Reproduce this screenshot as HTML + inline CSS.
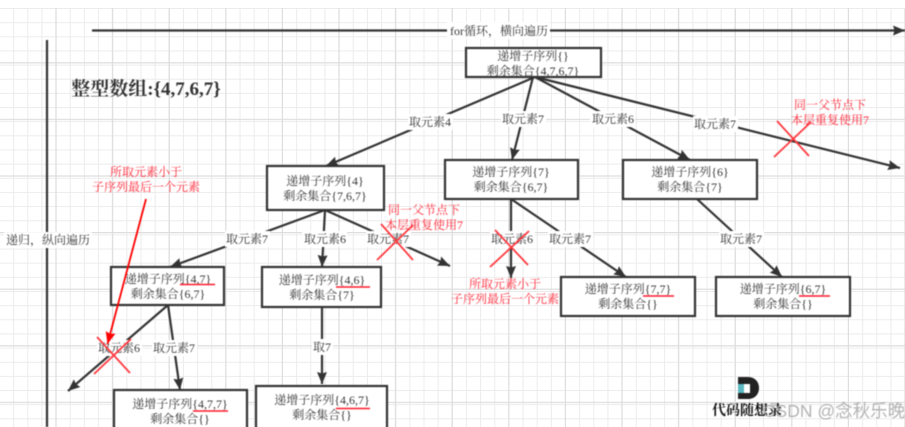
<!DOCTYPE html>
<html><head><meta charset="utf-8"><style>
html,body{margin:0;padding:0;background:#fff;width:905px;height:427px;overflow:hidden}
svg{display:block}
#c{filter:blur(0.4px)}
text{font-family:"Liberation Serif","Noto Serif CJK SC",serif;font-size:12px;fill:#3a3a3a;text-anchor:middle}
.r{fill:#ff2a3a}
.b{fill:#fff;stroke:#333;stroke-width:2.2}
.l{stroke:#333;stroke-width:2.2;fill:none}
.x{stroke:#ff3a40;stroke-width:1.8;fill:none}
.u{stroke:#ff1a2a;stroke-width:1.5;fill:none}
.w{fill:#fff}
</style></head><body>
<svg width="905" height="427" viewBox="0 0 905 427" xmlns="http://www.w3.org/2000/svg">
<defs>
<pattern id="m" x="0" y="8" width="14.15" height="14.15" patternUnits="userSpaceOnUse"><path d="M13.65 0V14.15M0 .5H14.15" stroke="#ececec" stroke-width="1" fill="none"/></pattern>
<pattern id="M" x="0" y="5.6" width="56.6" height="56.6" patternUnits="userSpaceOnUse"><path d="M56 0V56.6M0 .6H56.6" stroke="#dedede" stroke-width="1.2" fill="none"/></pattern>
<marker id="a" markerUnits="userSpaceOnUse" markerWidth="14" markerHeight="12" refX="12" refY="5.500" orient="auto"><path d="M0 0.500L12 5.500L0 10.500L1.500 5.500Z" fill="#333"/></marker>
<marker id="ra" markerUnits="userSpaceOnUse" markerWidth="14" markerHeight="12" refX="12" refY="5.500" orient="auto"><path d="M0 0.500L12 5.500L0 10.500L1.500 5.500Z" fill="#f00"/></marker>
</defs>
<rect y="8" width="905" height="419" fill="url(#m)"/>
<rect y="8" width="905" height="419" fill="url(#M)"/>
<g id="c">
<line class="l" x1="92" y1="30.500" x2="905" y2="30.500" marker-end="url(#a)"/>
<line class="l" x1="47" y1="40" x2="47" y2="427"/>
<rect class="w" x="447" y="22" width="103" height="17"/>
<text x="499" y="35">for循环，横向遍历</text>
<rect class="w" x="4" y="232" width="88" height="16"/>
<text x="48" y="244">递归，纵向遍历</text>
<text x="146" y="95" style="font-size:19px;font-weight:bold;fill:#333">整型数组:{4,7,6,7}</text>

<line class="l" x1="535" y1="77" x2="326" y2="166" marker-end="url(#a)"/>
<line class="l" x1="533" y1="77" x2="512" y2="160" marker-end="url(#a)"/>
<line class="l" x1="535" y1="77" x2="690" y2="160" marker-end="url(#a)"/>
<line class="l" x1="535" y1="77" x2="900" y2="168" marker-end="url(#a)"/>
<line class="l" x1="325" y1="210" x2="170" y2="267" marker-end="url(#a)"/>
<line class="l" x1="325" y1="210" x2="322" y2="267" marker-end="url(#a)"/>
<line class="l" x1="325" y1="210" x2="450" y2="266" marker-end="url(#a)"/>
<line class="l" x1="511" y1="199" x2="511" y2="278" marker-end="url(#a)"/>
<line class="l" x1="511" y1="199" x2="626" y2="277" marker-end="url(#a)"/>
<line class="l" x1="697" y1="199" x2="782" y2="277" marker-end="url(#a)"/>
<line class="l" x1="168" y1="305" x2="68" y2="391" marker-end="url(#a)"/>
<line class="l" x1="168" y1="305" x2="180" y2="390" marker-end="url(#a)"/>
<line class="l" x1="322" y1="307" x2="322" y2="384" marker-end="url(#a)"/>

<g>
<rect class="w" x="408" y="114" width="45" height="16"/><text x="430" y="126">取元素4</text>
<rect class="w" x="501" y="111" width="45" height="16"/><text x="523" y="123">取元素7</text>
<rect class="w" x="590" y="111" width="45" height="16"/><text x="613" y="123">取元素6</text>
<rect class="w" x="693" y="116" width="45" height="16"/><text x="715" y="128">取元素7</text>
<rect class="w" x="225" y="231" width="45" height="16"/><text x="247" y="243">取元素7</text>
<rect class="w" x="302" y="231" width="45" height="16"/><text x="325" y="243">取元素6</text>
<rect class="w" x="366" y="231" width="45" height="16"/><text x="388" y="243">取元素7</text>
<rect class="w" x="490" y="231" width="45" height="16"/><text x="512" y="243">取元素6</text>
<rect class="w" x="548" y="231" width="45" height="16"/><text x="570" y="243">取元素7</text>
<rect class="w" x="719" y="231" width="45" height="16"/><text x="741" y="243">取元素7</text>
<rect class="w" x="97" y="340" width="45" height="16"/><text x="119" y="352">取元素6</text>
<rect class="w" x="152" y="340" width="45" height="16"/><text x="174" y="352">取元素7</text>
<rect class="w" x="312" y="339" width="21" height="16"/><text x="322" y="351">取7</text>
</g>

<rect class="b" x="466" y="48" width="135" height="29"/>
<text x="533" y="60">递增子序列{}</text><text x="533" y="75">剩余集合{4,7,6,7}</text>
<rect class="b" x="267" y="166" width="117" height="44"/>
<text x="325" y="185">递增子序列{4}</text><text x="325" y="200">剩余集合{7,6,7}</text>
<rect class="b" x="445" y="160" width="133" height="39"/>
<text x="511" y="176">递增子序列{7}</text><text x="511" y="191">剩余集合{6,7}</text>
<rect class="b" x="623" y="160" width="134" height="39"/>
<text x="690" y="176">递增子序列{6}</text><text x="690" y="191">剩余集合{7}</text>
<rect class="b" x="111" y="267" width="113" height="38"/>
<text x="168" y="283">递增子序列{4,7}</text><text x="168" y="298">剩余集合{6,7}</text>
<rect class="b" x="262" y="267" width="119" height="40"/>
<text x="322" y="284">递增子序列{4,6}</text><text x="322" y="299">剩余集合{7}</text>
<rect class="b" x="114" y="390" width="133" height="50"/>
<text x="180" y="408">递增子序列{4,7,7}</text><text x="180" y="423">剩余集合{}</text>
<rect class="b" x="256" y="386" width="131" height="54"/>
<text x="322" y="404">递增子序列{4,6,7}</text><text x="322" y="419">剩余集合{}</text>
<rect class="b" x="561" y="277" width="134" height="39"/>
<text x="628" y="293">递增子序列{7,7}</text><text x="628" y="308">剩余集合{}</text>
<rect class="b" x="716" y="277" width="134" height="39"/>
<text x="783" y="293">递增子序列{6,7}</text><text x="783" y="308">剩余集合{}</text>

<path class="u" d="M180 284.500H215M336 287H370M193 411H228M336 408.500H370M643 296H674M799 296H830"/>

<g>
<path class="x" d="M774 157L811 122M777 121L809 156M377 260L413 225M381 224L413 260M490 267L529 231M495 230L528 265M94 374L131 339M97 337L130 373"/>
</g>
<line x1="146" y1="199" x2="107.500" y2="344" stroke="#f00" stroke-width="1.800" marker-end="url(#ra)"/>

<text class="r" x="146" y="176">所取元素小于</text><text class="r" x="146" y="191">子序列最后一个元素</text>
<text class="r" x="830" y="109">同一父节点下</text><text class="r" x="830" y="124">本层重复使用7</text>
<text class="r" x="424" y="214">同一父节点下</text><text class="r" x="424" y="229">本层重复使用7</text>
<text class="r" x="505" y="288">所取元素小于</text><text class="r" x="505" y="303">子序列最后一个元素</text>

<path d="M738 377H748C755 377 759 382 759 388C759 394 755 399 748 399H738Z" fill="#222"/>
<rect x="738" y="384" width="6" height="9" fill="#5bb8c0"/>
<rect x="744" y="384" width="6" height="9" fill="#fff"/>
<text x="747" y="415" style="font-size:14px;font-weight:bold;fill:#111">代码随想录</text>
<text x="834" y="417" style="font-family:'Liberation Sans','Noto Sans CJK SC',sans-serif;font-size:17.500px;fill:#9a9a9a;fill-opacity:.75">CSDN @念秋乐晚</text>
</g>
</svg>
</body></html>
